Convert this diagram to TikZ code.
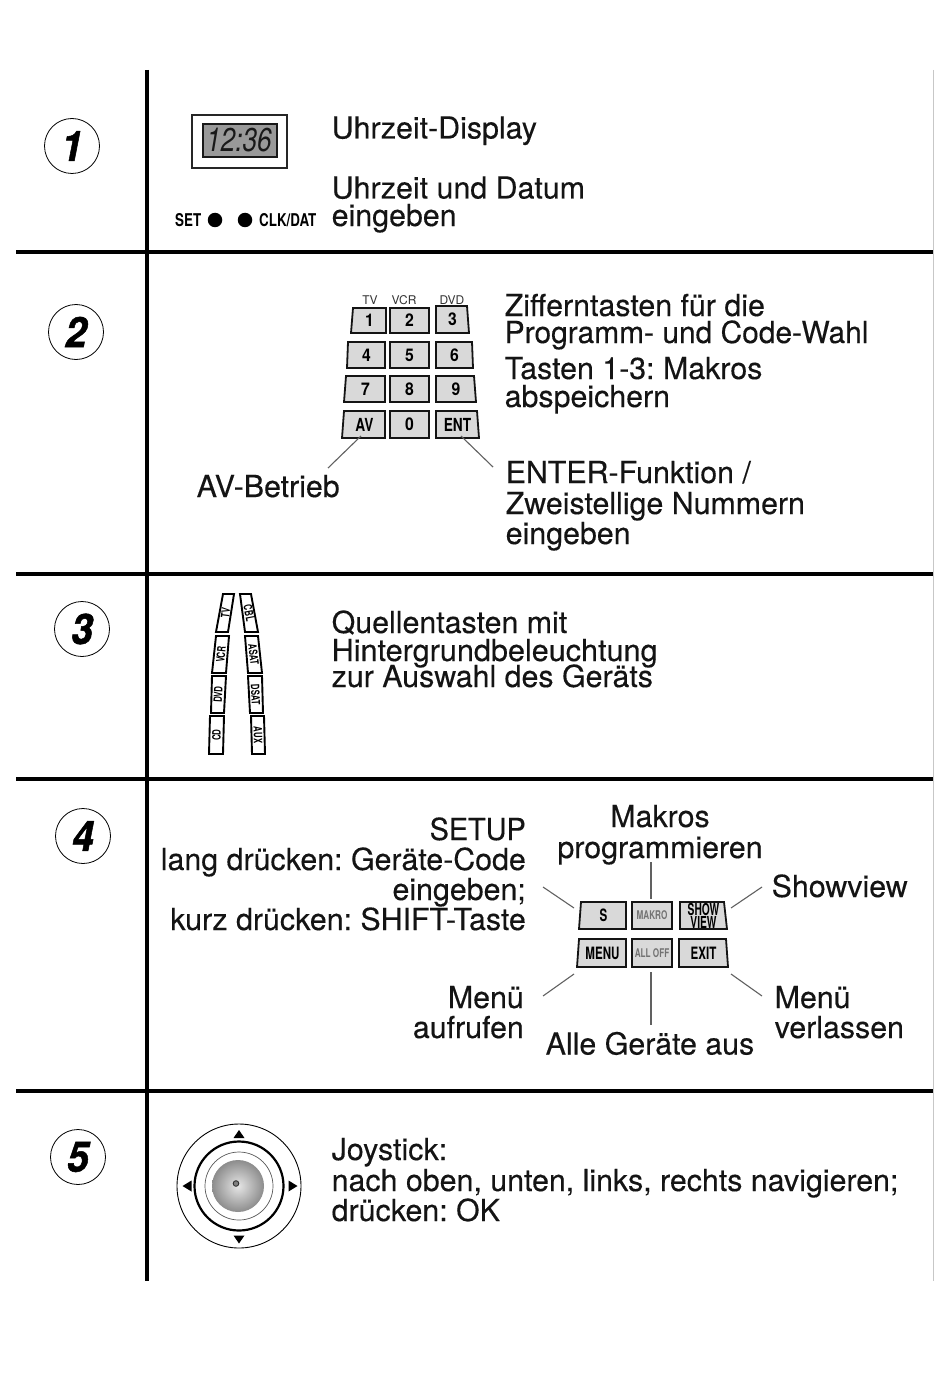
\documentclass[tikz,border=0pt]{standalone}
\usepackage{fontspec}
\setmainfont{TeX Gyre Heros}
\newfontfamily\txfont[FakeBold=0.25]{TeX Gyre Heros}
\newfontfamily\condA[FakeStretch=0.76]{TeX Gyre Heros}
\newfontfamily\condB[FakeStretch=0.68]{TeX Gyre Heros}
\newfontfamily\condC[FakeStretch=0.62]{TeX Gyre Heros}
\newfontfamily\condD[FakeStretch=0.9]{TeX Gyre Heros}
\newfontfamily\numfont[BoldItalicFeatures={FakeBold=1.2,FakeStretch=0.92}]{TeX Gyre Heros}
\newfontfamily\lcdfont[ItalicFeatures={FakeStretch=0.79}]{TeX Gyre Heros}
\usetikzlibrary{calc}
\tikzset{
  rule/.style={line width=3.2pt,black},
  leader/.style={line width=1.1pt,black!62},
  tx/.style={inner sep=0pt,font=\txfont\frenchspacing\fontsize{30.35}{30}\selectfont,text=black!92},
  numring/.style={circle,draw,line width=0.8pt,minimum size=55pt,inner sep=0pt,font=\numfont\fontsize{42}{42}\selectfont\bfseries\itshape},
  keyshape/.style={draw=black!92,line width=1.8pt,fill=black!15,line join=miter},
  srcshape/.style={draw=black,line width=1.9pt,fill=white,line join=miter},
  keylab/.style={inner sep=0pt,font=\condA\bfseries\fontsize{18}{18}\selectfont},
  digitlab/.style={inner sep=0pt,font=\condD\bfseries\fontsize{17.5}{17.5}\selectfont},
  keylabb/.style={inner sep=0pt,font=\condB\bfseries\fontsize{17}{17}\selectfont},
  greylab/.style={inner sep=0pt,text=black!55,font=\condB\bfseries\fontsize{12}{12}\selectfont},
  showlab/.style={inner sep=0pt,align=center,font=\condC\bfseries\fontsize{16.5}{11.5}\selectfont},
  srclab/.style={inner sep=0pt,font=\condB\bfseries\fontsize{11.5}{11.5}\selectfont},
  toplab/.style={inner sep=0pt,font=\fontsize{12}{12}\selectfont,text=black!80},
  panellab/.style={inner sep=0pt,anchor=base west,font=\condA\bfseries\fontsize{17.6}{18}\selectfont},
  bulb/.style={circle,fill=black,minimum size=14.5pt,inner sep=0pt},
  tri/.style={fill=black,draw=none},
}
% \keyq[shape style]{name}{text}{p1}{p2}{p3}{p4}{label style}
\newcommand{\keyq}[8][keyshape]{%
  \draw[#1] #4 -- #5 -- #6 -- #7 -- cycle;
  \node[#8] (#2) at ($#4!0.5!#6$) {#3};
}
\begin{document}
\begin{tikzpicture}[x=1pt,y=-1pt]
\useasboundingbox[fill=white] (0,0) rectangle (950,1380);
% frame rules
\coordinate (et) at (933.5,70); \coordinate (eb) at (933.5,1281);
\draw[line width=0.8pt,black!22] (et) -- (eb);
\coordinate (vt) at (147,70); \coordinate (vb) at (147,1281);
\draw[rule] (vt) -- (vb);
\foreach \y/\n in {252/a,574/b,779/c,1091/d}{
  \coordinate (l\n) at (16,\y); \coordinate (r\n) at (933,\y);
  \draw[rule] (l\n) -- (r\n);
}
% numbers
\node[numring] (n1) at (72,146) {1};
\node[numring] (n2) at (76,332) {2};
\node[numring] (n3) at (82,629) {3};
\node[numring] (n4) at (83,836) {4};
\node[numring] (n5) at (78,1157) {5};
% section 1
\draw[line width=1.1pt,draw=black!85] (192,115) rectangle (287,168);
\draw[line width=1.5pt,draw=black!90,fill=black!40] (203,124) rectangle (277,157);
\node[inner sep=0pt,font=\lcdfont\fontsize{33}{33}\selectfont\itshape,text=black!90] (clock) at (239,140.5) {12:36};
\node[panellab] (set) at (175,226) {SET};
\node[panellab] (clk) at (259,226) {CLK/DAT};
\node[bulb] (d1) at (215,220) {};
\node[bulb] (d2) at (245,220) {};
\node[tx,anchor=base west] (t1a) at (331.5,138.5) {Uhrzeit-Display};
\node[tx,anchor=base west] (t1b) at (331.5,198.5) {Uhrzeit und Datum};
\node[tx,anchor=base west] (t1c) at (331.5,226) {eingeben};
% section 2
\node[toplab] (ltv) at (370,300) {TV};
\node[toplab] (lvcr) at (404,300) {VCR};
\node[toplab] (ldvd) at (452,300) {DVD};
\keyq{k1}{1}{(353,308)}{(386,308)}{(386,333)}{(351,333)}{digitlab}
\keyq{k2}{2}{(390,308)}{(429,308)}{(429,333)}{(390,333)}{digitlab}
\keyq{k3}{3}{(436,306)}{(467,306)}{(469,333)}{(436,333)}{digitlab}
\keyq{k4}{4}{(348,342)}{(385,342)}{(385,368)}{(347,368)}{digitlab}
\keyq{k5}{5}{(390,342)}{(429,342)}{(429,368)}{(390,368)}{digitlab}
\keyq{k6}{6}{(436,342)}{(472,342)}{(473,368)}{(436,368)}{digitlab}
\keyq{k7}{7}{(346,376)}{(385,376)}{(385,402)}{(344,402)}{digitlab}
\keyq{k8}{8}{(390,376)}{(429,376)}{(429,402)}{(390,402)}{digitlab}
\keyq{k9}{9}{(436,376)}{(474,376)}{(476,402)}{(436,402)}{digitlab}
\keyq{kav}{AV}{(344,411)}{(385,411)}{(385,438)}{(342,438)}{keylab}
\keyq{k0}{0}{(390,411)}{(429,411)}{(429,438)}{(390,438)}{digitlab}
\keyq{kent}{ENT}{(436,411)}{(477,411)}{(479,438)}{(436,438)}{keylab}
\coordinate (av1) at (361,436); \coordinate (av2) at (328,468);
\coordinate (en1) at (461,436); \coordinate (en2) at (493,467);
\draw[leader] (av1) -- (av2);
\draw[leader] (en1) -- (en2);
\node[tx,anchor=base west] (t2a) at (504.5,316) {Zifferntasten für die};
\node[tx,anchor=base west] (t2b) at (504.5,343) {\scalebox{0.986}[1]{Programm- und Code-Wahl}};
\node[tx,anchor=base west] (t2c) at (504.5,379) {Tasten 1-3: Makros};
\node[tx,anchor=base west] (t2d) at (504.5,407) {abspeichern};
\node[tx,anchor=base west] (t2e) at (196.5,497) {AV-Betrieb};
\node[tx,anchor=base west] (t2f) at (505.5,483) {ENTER-Funktion /};
\node[tx,anchor=base west] (t2g) at (505.5,514) {Zweistellige Nummern};
\node[tx,anchor=base west] (t2h) at (505.5,544) {eingeben};
% section 3
\keyq[srcshape]{s1}{\rotatebox{83}{TV}}{(223,594)}{(234,594)}{(228,632)}{(216,632)}{srclab}
\keyq[srcshape]{s2}{\rotatebox{85}{VCR}}{(216,636)}{(229,636)}{(226,673)}{(212,673)}{srclab}
\keyq[srcshape]{s3}{\rotatebox{87}{DVD}}{(212,676)}{(226,676)}{(224,713)}{(211,713)}{srclab}
\keyq[srcshape]{s4}{\rotatebox{89}{CD}}{(210,716)}{(224,716)}{(223,754)}{(209,754)}{srclab}
\keyq[srcshape]{s5}{\rotatebox{-79}{CBL}}{(240,594)}{(251,594)}{(258,632)}{(245,632)}{srclab}
\keyq[srcshape]{s6}{\rotatebox{-83}{ASAT}}{(245,636)}{(258,636)}{(262,673)}{(248,673)}{srclab}
\keyq[srcshape]{s7}{\rotatebox{-87}{DSAT}}{(248,676)}{(262,676)}{(263,713)}{(250,713)}{srclab}
\keyq[srcshape]{s8}{\rotatebox{-89}{AUX}}{(251,716)}{(264,716)}{(265,754)}{(252,754)}{srclab}
\node[tx,anchor=base west] (t3a) at (331.5,633) {Quellentasten mit};
\node[tx,anchor=base west] (t3b) at (331.5,661) {\scalebox{1.008}[1]{Hintergrundbeleuchtung}};
\node[tx,anchor=base west] (t3c) at (331.5,687) {zur Auswahl des Geräts};
% section 4
\keyq{ks}{S}{(581,902)}{(626,902)}{(626,929)}{(579,929)}{keylabb}
\keyq{km}{MAKRO}{(632,902)}{(672,902)}{(672,929)}{(632,929)}{greylab}
\keyq{ksv}{SHOW\\VIEW}{(680,902)}{(724,902)}{(727,929)}{(680,929)}{showlab}
\keyq{kme}{MENU}{(579,939)}{(626,939)}{(626,967)}{(577,967)}{keylabb}
\keyq{kal}{ALL OFF}{(632,939)}{(672,939)}{(672,967)}{(632,967)}{greylab}
\keyq{kex}{EXIT}{(679,939)}{(726,939)}{(728,967)}{(679,967)}{keylabb}
\coordinate (a1) at (543,887); \coordinate (a2) at (574,908);
\coordinate (b1) at (651,862); \coordinate (b2) at (651,899);
\coordinate (c1) at (762,887); \coordinate (c2) at (731,908);
\coordinate (e1) at (574,974); \coordinate (e2) at (543,996);
\coordinate (f1) at (651,972); \coordinate (f2) at (651,1025);
\coordinate (g1) at (731,974); \coordinate (g2) at (762,996);
\foreach \p/\q in {a1/a2,b1/b2,c1/c2,e1/e2,f1/f2,g1/g2}{\draw[leader] (\p) -- (\q);}
\node[tx,anchor=base east] (t4a) at (526,840) {\scalebox{0.95}[1]{SETUP}};
\node[tx,anchor=base east] (t4b) at (526,870) {lang drücken: Geräte-Code};
\node[tx,anchor=base east] (t4c) at (526,900) {eingeben;};
\node[tx,anchor=base east] (t4d) at (526,930) {kurz drücken: SHIFT-Taste};
\node[tx,anchor=base] (t4e) at (660,827) {Makros};
\node[tx,anchor=base] (t4f) at (660,858) {programmieren};
\node[tx,anchor=base west] (t4g) at (771.5,897) {Showview};
\node[tx,anchor=base east] (t4h) at (524,1008) {Menü};
\node[tx,anchor=base east] (t4i) at (524,1038) {aufrufen};
\node[tx,anchor=base west] (t4j) at (545.5,1054.5) {Alle Geräte aus};
\node[tx,anchor=base west] (t4k) at (774.5,1008) {Menü};
\node[tx,anchor=base west] (t4l) at (774.5,1038) {verlassen};
% section 5
\coordinate (jc) at (239,1186);
\draw[line width=0.9pt] (jc) circle (62);
\draw[line width=2.2pt] (jc) circle (44.5);
\draw[line width=0.7pt,draw=black!65] (jc) circle (34);
\shade[inner color=black!10,outer color=black!45] (238,1186) circle (26);
\fill[black!50,draw=black!80,line width=0.9pt] (236,1183.5) circle (2.8);
\fill[tri] (239,1130) -- (244.5,1138) -- (233.5,1138) -- cycle;
\fill[tri] (239,1243.5) -- (244.5,1235.5) -- (233.5,1235.5) -- cycle;
\fill[tri] (182.5,1186) -- (191.5,1180.5) -- (191.5,1191.5) -- cycle;
\fill[tri] (297.5,1186) -- (288.5,1180.5) -- (288.5,1191.5) -- cycle;
\node[tx,anchor=base west] (t5a) at (331.5,1160) {Joystick:};
\node[tx,anchor=base west] (t5b) at (331.5,1191) {nach oben, unten, links, rechts navigieren;};
\node[tx,anchor=base west] (t5c) at (331.5,1221) {drücken: OK};
\end{tikzpicture}
\end{document}
